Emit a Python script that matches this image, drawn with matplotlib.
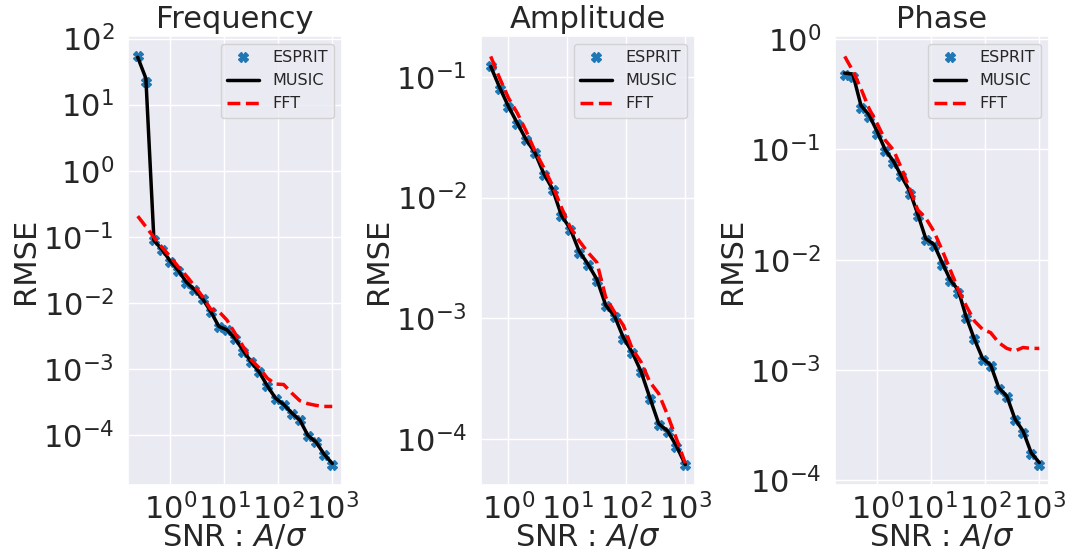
import matplotlib
matplotlib.use("Agg")
import matplotlib.pyplot as plt
import seaborn as sns
from matplotlib.ticker import LogLocator

sns.set_theme(style="darkgrid")
plt.rcParams["font.family"] = ["DejaVu Sans"]

# SNR grid (A / sigma)
snr = [0.251, 0.355, 0.501, 0.708, 1.0, 1.41, 2.0, 2.82, 3.98, 5.62, 7.94,
       11.2, 15.8, 22.4, 31.6, 44.7, 63.1, 89.1, 126, 178, 251, 355, 501,
       708, 1000]
snr_amp = snr[2:]

# Frequency RMSE
freq_esprit = [53.6, 22.0, 0.089, 0.063, 0.042, 0.0303, 0.0202, 0.0157,
               0.0113, 0.00736, 0.00428, 0.00389, 0.00281, 0.00183, 0.00125,
               0.000883, 0.000542, 0.000349, 0.00028, 0.00021, 0.00017,
               9.5e-5, 7.7e-5, 5.0e-5, 3.56e-5]
freq_music = [52.0, 25.0, 0.088, 0.064, 0.043, 0.031, 0.0205, 0.0158,
              0.0115, 0.0074, 0.0044, 0.0039, 0.0029, 0.0019, 0.00127,
              0.00089, 0.00055, 0.00036, 0.00029, 0.000215, 0.000168,
              9.8e-5, 7.8e-5, 5.1e-5, 3.7e-5]
freq_fft = [0.205, 0.142, 0.098, 0.069, 0.050, 0.0352, 0.0255, 0.018,
            0.0124, 0.0080, 0.0074, 0.0055, 0.00347, 0.00218, 0.00137,
            0.00103, 0.00072, 0.00059, 0.00058, 0.00043, 0.00033,
            0.000297, 0.00028, 0.00027, 0.00027]

# Amplitude RMSE
amp_esprit = [0.124, 0.080, 0.0565, 0.0409, 0.0299, 0.0232, 0.0153, 0.01156,
              0.00705, 0.0054, 0.0035, 0.00275, 0.00205, 0.00127, 0.00102,
              0.000675, 0.000513, 0.000357, 0.000215, 0.000131, 0.000114,
              8.6e-5, 6.1e-5]
amp_music = [0.122, 0.082, 0.057, 0.0415, 0.0302, 0.0235, 0.0158, 0.0117,
             0.0071, 0.0055, 0.0036, 0.0028, 0.0021, 0.00128, 0.00104,
             0.00069, 0.00052, 0.00036, 0.000218, 0.000133, 0.000116,
             8.7e-5, 6.1e-5]
amp_fft = [0.148, 0.098, 0.067, 0.0503, 0.0355, 0.0243, 0.0177, 0.0125,
           0.00826, 0.00565, 0.00438, 0.0035, 0.0029, 0.00149, 0.00112,
           0.00087, 0.000557, 0.000432, 0.000295, 0.000236, 0.000157,
           0.0001, 6.25e-5]

# Phase RMSE
phase_esprit = [0.469, 0.453, 0.238, 0.197, 0.137, 0.0966, 0.0747, 0.0574,
                0.0392, 0.025, 0.0152, 0.0132, 0.00903, 0.00638, 0.00501,
                0.00298, 0.0019, 0.00124, 0.00109, 0.000673, 0.000565,
                0.000349, 0.00027, 0.000174, 0.000139]
phase_music = [0.49, 0.48, 0.25, 0.205, 0.145, 0.099, 0.078, 0.057, 0.042,
               0.026, 0.0155, 0.0138, 0.0095, 0.0066, 0.0053, 0.0030, 0.0019,
               0.00128, 0.00111, 0.00069, 0.00058, 0.00036, 0.00028,
               0.000178, 0.000145]
phase_fft = [0.695, 0.513, 0.355, 0.234, 0.171, 0.121, 0.0986, 0.0673,
             0.0444, 0.0283, 0.0238, 0.0181, 0.0123, 0.00814, 0.00537,
             0.0038, 0.00278, 0.00234, 0.00218, 0.00177, 0.00157, 0.00149,
             0.0016, 0.00157, 0.00157]

titles = ["Frequency", "Amplitude", "Phase"]
panels = [
    (snr, freq_esprit, freq_music, freq_fft),
    (snr_amp, amp_esprit, amp_music, amp_fft),
    (snr, phase_esprit, phase_music, phase_fft),
]

W, H = 1074, 559
fig = plt.figure(figsize=(W / 100, H / 100), dpi=100)
lefts = [128, 481, 835]
ax_w, top, bottom = 214, 36, 485

FS = 22
for left, title, (x, esp, mus, fft) in zip(lefts, titles, panels):
    ax = fig.add_axes([left / W, 1 - bottom / H, ax_w / W, (bottom - top) / H])
    ax.plot(x, esp, linestyle="none", marker="X", markersize=7,
            color="#1f77b4", label="ESPRIT")
    ax.plot(x, mus, color="black", linewidth=2.5, label="MUSIC")
    ax.plot(x, fft, color="red", linestyle="--", linewidth=2.5, label="FFT")
    ax.set_xscale("log")
    ax.set_yscale("log")
    ax.xaxis.set_major_locator(LogLocator(base=10, numticks=20))
    ax.yaxis.set_major_locator(LogLocator(base=10, numticks=20))
    ax.tick_params(axis="y", labelsize=FS, pad=4)
    ax.tick_params(axis="x", labelsize=FS, pad=0)
    ax.set_title(title, fontsize=FS)
    ax.set_xlabel("SNR : $A/\\sigma$", fontsize=FS, labelpad=-2)
    ax.set_ylabel("RMSE", fontsize=FS, labelpad=2)
    ax.legend(loc="upper right", fontsize=11.5)

fig.savefig("out.png", dpi=100)
